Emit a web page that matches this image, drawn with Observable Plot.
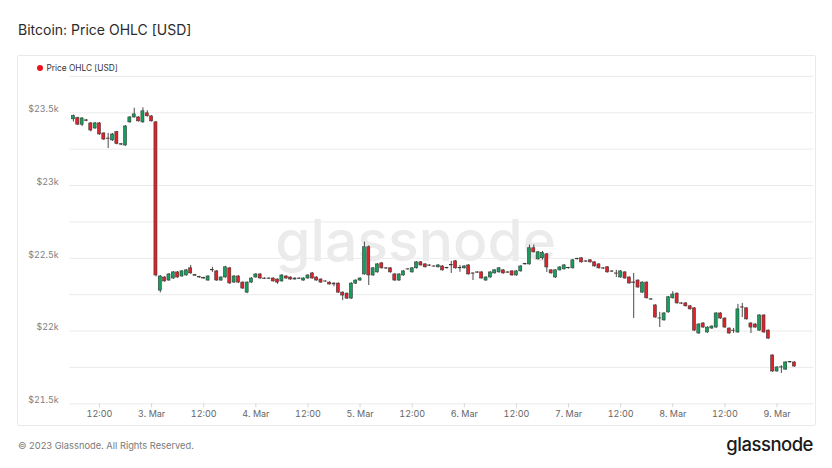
<!DOCTYPE html>
<html>
<head>
<meta charset="utf-8">
<script src="https://cdn.jsdelivr.net/npm/d3@7"></script>
<script src="https://cdn.jsdelivr.net/npm/@observablehq/plot@0.6"></script>
<style>
  html, body { margin: 0; padding: 0; background: #fff; }
  body { width: 832px; height: 468px; position: relative; overflow: hidden; font-family: Inter, "Noto Sans", sans-serif; }
  #title { position: absolute; left: 18px; top: 21px; font-size: 14px; color: #2b2b2b; }
  #box { position: absolute; left: 17px; top: 55px; width: 797px; height: 369px; border: 1px solid #e9e9e9; border-radius: 2px; }
  #legend { position: absolute; left: 37px; top: 63px; font-size: 8.3px; color: #333; display: flex; align-items: center; }
  #legend .dot { width: 6px; height: 6px; border-radius: 50%; background: #e8141b; margin-right: 3.5px; }
  #chart { position: absolute; left: 17px; top: 66px; }
  #foot { position: absolute; left: 18px; top: 440px; font-size: 9.3px; color: #7a7a7a; }
  #logo { position: absolute; right: 19px; top: 433px; font-size: 18.5px; color: #1a1a1a; font-weight: 500; letter-spacing: -0.5px; }
</style>
</head>
<body>
<div id="title">Bitcoin: Price OHLC [USD]</div>
<div id="box"></div>
<div id="legend"><span class="dot"></span><span>Price OHLC [USD]</span></div>
<div id="chart"></div>
<div id="foot">© 2023 Glassnode. All Rights Reserved.</div>
<div id="logo">glassnode</div>
<script>
// hourly candles starting 2023-03-02 06:00 UTC
const firstCandle = "2023-03-02T06:00:00Z";
const open = [23455,23463,23418,23448,23427,23392,23427,23358,23323,23310,23367,23284,23275,23434,23468,23468,23434,23496,23475,23434,
22278,22368,22347,22361,22403,22375,22382,22431,22384,22371,22364,22347,22417,22410,22347,22368,22431,22333,22375,22333,
22264,22333,22368,22389,22361,22359,22361,22354,22341,22375,22368,22354,22361,22347,22361,22396,22368,22354,22341,22333,
22326,22326,22264,22257,22223,22326,22347,22389,22576,22382,22403,22465,22431,22431,22389,22347,22382,22424,22403,22431,
22472,22458,22451,22444,22438,22444,22431,22451,22479,22431,22431,22451,22396,22403,22403,22347,22368,22396,22403,22417,
22403,22410,22382,22410,22458,22458,22569,22493,22500,22527,22417,22368,22417,22424,22431,22431,22493,22500,22479,22486,
22472,22458,22431,22438,22410,22396,22368,22403,22368,22334,22347,22264,22333,22218,22176,22086,22073,22128,22225,22257,
22190,22190,22170,22156,21983,22052,21990,22017,22024,22121,22086,22017,22003,21990,22163,22156,22052,22045,22003,22107,
22003,21832,21722,21749,21735,21784,21784];
const close = [23477,23418,23461,23444,23378,23427,23351,23316,23321,23351,23286,23281,23406,23468,23489,23441,23510,23476,23441,22382,
22375,22341,22389,22403,22368,22410,22417,22396,22380,22368,22361,22375,22421,22347,22368,22438,22327,22375,22333,22292,
22333,22361,22389,22361,22358,22361,22341,22333,22382,22361,22354,22361,22359,22361,22382,22361,22347,22333,22340,22320,
22320,22264,22244,22223,22326,22347,22361,22576,22382,22431,22458,22431,22429,22403,22347,22389,22410,22423,22431,22472,
22451,22438,22449,22443,22451,22417,22433,22453,22431,22433,22444,22389,22394,22401,22361,22368,22403,22417,22431,22396,
22401,22382,22410,22444,22460,22569,22541,22541,22537,22437,22396,22417,22437,22451,22433,22486,22495,22472,22477,22472,
22444,22431,22429,22403,22408,22394,22410,22361,22327,22331,22299,22333,22225,22216,22093,22087,22121,22232,22251,22190,
22188,22170,22149,22003,22045,22024,22024,22031,22121,22086,22024,21983,22001,22149,22161,22080,22024,22024,22107,21990,
21948,21722,21750,21751,21784,21786,21756];
const high = [23484,23469,23466,23454,23433,23434,23433,23362,23358,23358,23372,23289,23412,23474,23531,23474,23534,23514,23480,23440,
22382,22374,22395,22409,22409,22416,22423,22451,22389,22376,22369,22380,22438,22416,22373,22445,22437,22381,22381,22338,
22338,22366,22394,22394,22366,22366,22366,22359,22388,22380,22373,22366,22366,22366,22387,22402,22373,22359,22346,22338,
22332,22331,22270,22262,22332,22352,22366,22611,22585,22437,22464,22470,22436,22436,22394,22394,22415,22429,22436,22477,
22477,22463,22456,22449,22456,22449,22438,22479,22485,22451,22449,22456,22400,22408,22408,22373,22408,22422,22436,22422,
22408,22415,22415,22449,22465,22591,22591,22547,22547,22533,22422,22422,22443,22457,22438,22492,22500,22505,22484,22491,
22477,22463,22436,22443,22415,22417,22415,22408,22373,22396,22352,22338,22338,22223,22181,22128,22126,22238,22271,22262,
22195,22195,22175,22161,22050,22057,22029,22036,22126,22126,22091,22022,22018,22183,22190,22161,22057,22050,22112,22112,
22008,21837,21755,21762,21789,21791,21789];
const low = [23436,23414,23405,23439,23369,23386,23345,23310,23254,23303,23280,23274,23270,23428,23462,23436,23428,23470,23436,22372,
22262,22335,22342,22355,22362,22370,22377,22390,22376,22363,22356,22342,22403,22342,22342,22363,22321,22328,22327,22286,
22257,22328,22364,22356,22354,22355,22336,22321,22336,22356,22349,22350,22355,22342,22356,22356,22342,22328,22335,22315,
22304,22259,22209,22216,22218,22320,22342,22384,22313,22376,22398,22426,22424,22398,22342,22342,22377,22418,22398,22426,
22446,22433,22444,22438,22433,22412,22426,22396,22426,22404,22426,22384,22347,22396,22356,22342,22363,22391,22398,22391,
22396,22377,22377,22405,22453,22453,22536,22488,22488,22403,22391,22362,22412,22419,22426,22426,22488,22467,22472,22467,
22439,22426,22424,22398,22403,22368,22363,22356,22322,22086,22294,22259,22220,22211,22088,22024,22068,22123,22220,22185,
22183,22165,22144,21998,21978,22019,21985,22012,22019,22081,22019,21978,21984,21985,22093,22075,21983,22019,21998,21985,
21943,21715,21717,21708,21730,21779,21751];

const yLabelTicks = [21500, 22000, 22500, 23000, 23500];
const yLabels = ["$21.5k", "$22k", "$22.5k", "$23k", "$23.5k"];
const yGridTicks = [21500, 21750, 22000, 22250, 22500, 22750, 23000, 23250, 23500, 23750];
const xDomain = ["2023-03-02T05:10:00Z", "2023-03-09T08:24:00Z"];
const yDomain = [21500, 23750];
const upColor = "#14a05c";
const downColor = "#e0222a";

const t0 = new Date(firstCandle).getTime();
const H = 3600e3;
const data = open.map((o, i) => ({
  t: new Date(t0 + i * H),
  t1: new Date(t0 + i * H - 0.35 * H),
  t2: new Date(t0 + i * H + 0.35 * H),
  o, c: close[i], h: high[i], l: low[i]
}));

const fmtDay = d3.utcFormat("%-d. %b");
const fmtHour = d3.utcFormat("%H:%M");

const chart = Plot.plot({
  width: 798,
  height: 358,
  marginTop: 9.9,
  marginBottom: 20.7,
  marginLeft: 52.3,
  marginRight: 2,
  style: { background: "transparent", fontFamily: "Inter, 'Noto Sans', sans-serif", fontSize: "9px", overflow: "visible" },
  x: { type: "utc", domain: xDomain.map(s => new Date(s)) },
  y: { domain: yDomain },
  marks: [
    Plot.gridY(yGridTicks, { stroke: "#ebebeb", strokeOpacity: 1 }),
    Plot.text(["glassnode"], { frameAnchor: "middle", dx: -26, dy: 3, fontSize: 57, fontWeight: 500, fill: "#ebebeb", letterSpacing: -2.5 }),
    Plot.axisY(yLabelTicks, { tickSize: 0, tickPadding: 11, dy: -3.5, fill: "#808080", fontSize: 9,
      tickFormat: d => yLabels[yLabelTicks.indexOf(d)] }),
    Plot.axisX({ ticks: d3.utcHour.every(12), tickSize: 4, tickPadding: 2.5, stroke: "#d6d6d6", fill: "#666", fontSize: 9,
      tickFormat: d => d.getUTCHours() === 0 ? fmtDay(d) : fmtHour(d) }),
    Plot.ruleX(data, { x: "t", y1: "l", y2: "h", stroke: "#4a4a4a", strokeWidth: 1 }),
    Plot.rect(data, { x1: "t1", x2: "t2", y1: "o", y2: "c",
      fill: d => d.c >= d.o ? upColor : downColor, stroke: "#3a3a3a", strokeWidth: 0.6 })
  ]
});
document.getElementById("chart").appendChild(chart);
</script>
</body>
</html>
